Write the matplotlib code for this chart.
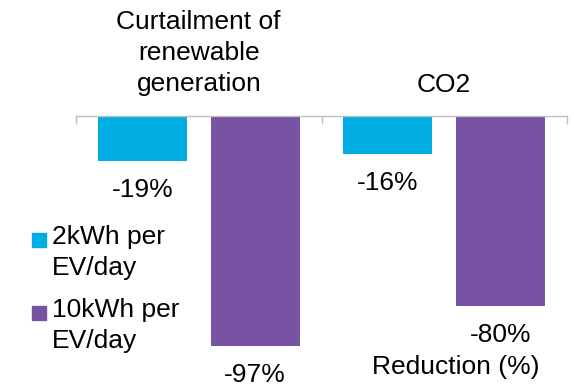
import numpy as np
import matplotlib.pyplot as plt
from matplotlib.patches import Rectangle

plt.rcParams['font.family'] = ['Liberation Sans', 'DejaVu Sans']

categories = ["Curtailment of\nrenewable\ngeneration", "CO2"]
series_names = ["2kWh per\nEV/day", "10kWh per\nEV/day"]
values = {
    "2kWh per\nEV/day": [-19, -16],
    "10kWh per\nEV/day": [-97, -80],
}
colors = ["#00AEE4", "#7853A3"]
axis_title = "Reduction (%)"

W, H = 574, 384
fig = plt.figure(figsize=(W / 100, H / 100), dpi=100)

# axes placed in pixel terms: top edge (value 0) at y=115.5px
ax_left, ax_right = 76, 567
ax_top_px = 115.5
px_per_unit = 2.38
ymin = -110
ax_h_px = -ymin * px_per_unit
ax = fig.add_axes([ax_left / W, (H - ax_top_px - ax_h_px) / H,
                   (ax_right - ax_left) / W, ax_h_px / H])

x = np.arange(len(categories))
offsets = [-0.23, 0.23]
width = 0.3625
fs = 19
lsp = 1.37

for k, name in enumerate(series_names):
    bars = ax.bar(x + offsets[k], values[name], width, color=colors[k], zorder=2)
    for b, v in zip(bars, values[name]):
        ax.annotate(f"{v}%", xy=(b.get_x() + b.get_width() / 2, v),
                    xytext=(0, -36), textcoords="offset pixels",
                    ha="center", va="baseline", fontsize=fs, color="#000000",
                    annotation_clip=False)

for i, cat in enumerate(categories):
    ax.annotate(cat, xy=(i, 0), xytext=(0, 19), textcoords="offset pixels",
                ha="center", va="bottom", fontsize=fs, linespacing=lsp,
                annotation_clip=False)

ax.set_xlim(-0.5, len(categories) - 0.5)
ax.set_ylim(ymin, 0)
for s in ["left", "right", "bottom"]:
    ax.spines[s].set_visible(False)
ax.spines["top"].set_color("#BFBFBF")
ax.spines["top"].set_linewidth(1.0)
ax.xaxis.set_ticks_position("top")
ax.set_xticks(np.arange(-0.5, len(categories), 1.0))
ax.set_xticklabels([])
ax.tick_params(axis="x", direction="in", length=6, color="#BFBFBF", width=1.0)
ax.set_yticks([])
ax.patch.set_alpha(0)

# legend drawn by hand so the swatch sits next to the first line
leg_y = [233, 306]
for k, name in enumerate(series_names):
    y0 = leg_y[k]
    fig.patches.append(Rectangle((32 / W, (H - y0 - 14) / H), 14 / W, 14 / H,
                                 transform=fig.transFigure, color=colors[k]))
    fig.text(52 / W, (H - y0 + 8) / H, name, ha="left", va="top",
             fontsize=fs, linespacing=lsp)

fig.text(456 / W, (H - 374) / H, axis_title, ha="center", va="baseline", fontsize=fs)

fig.savefig("out.png", dpi=100)
